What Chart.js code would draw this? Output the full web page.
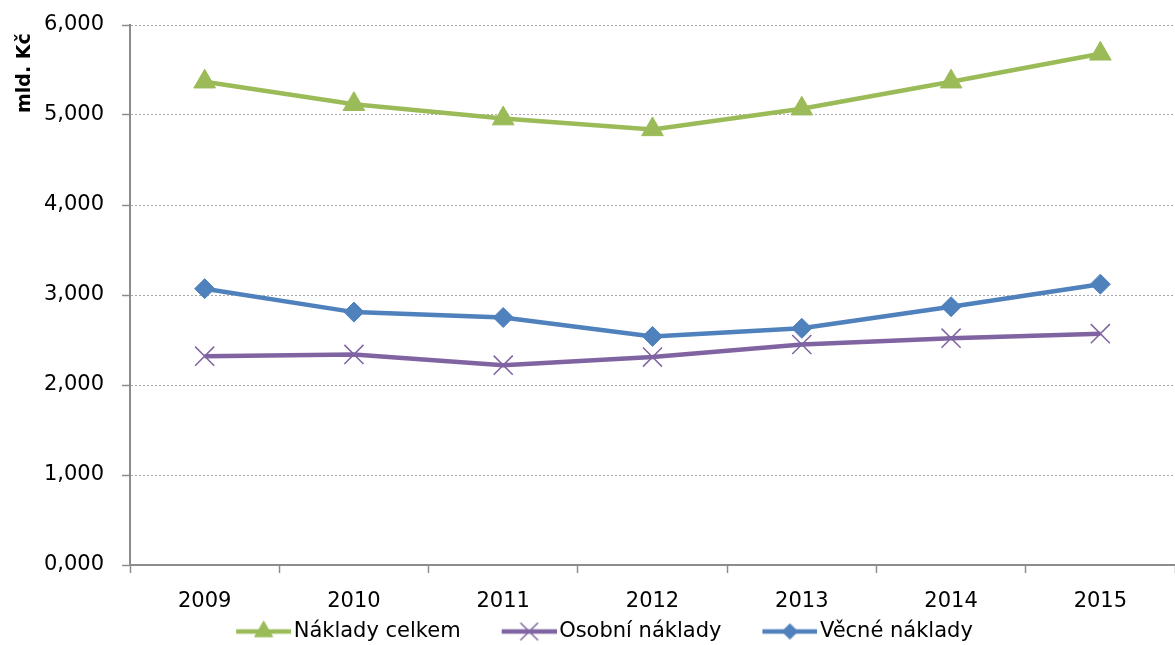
<!DOCTYPE html>
<html>
<head>
<meta charset="utf-8">
<script src="https://cdn.jsdelivr.net/npm/chart.js@4.4.0/dist/chart.umd.min.js"></script>
<style>
html,body{margin:0;padding:0;background:#fff;overflow:hidden;}
#wrap{position:absolute;left:0;top:0;width:1190px;height:645px;}
</style>
</head>
<body>
<div id="wrap"><canvas id="c" width="1190" height="645"></canvas></div>
<script>
const categories = ['2009','2010','2011','2012','2013','2014','2015'];
const nakladyCelkem = [5.37, 5.12, 4.96, 4.84, 5.07, 5.37, 5.68];
const osobniNaklady = [2.32, 2.34, 2.22, 2.31, 2.45, 2.52, 2.57];
const vecneNaklady  = [3.07, 2.81, 2.75, 2.54, 2.63, 2.87, 3.12];
const seriesNames = ['Náklady celkem', 'Osobní náklady', 'Věcné náklady'];
const yTitle = 'mld. Kč';

const GREEN = '#9BBB59', PURPLE = '#8064A2', BLUE = '#4F81BD';
const FONT = 'DejaVu Sans';
const FS = 21;

const OVER = 8;              // image overhang each side of box
const BOXW = 86;             // legend box width
const IMGW = BOXW + 2 * OVER;
const SAMPLE = 55;           // visible line sample width

function legendImage(color, style, r, bw) {
  const cv = document.createElement('canvas');
  cv.width = IMGW; cv.height = 26;
  const ctx = cv.getContext('2d');
  const x0 = IMGW - SAMPLE;
  ctx.strokeStyle = color; ctx.lineWidth = 4.5;
  ctx.beginPath(); ctx.moveTo(x0, 13); ctx.lineTo(IMGW, 13); ctx.stroke();
  ctx.fillStyle = color;
  ctx.strokeStyle = color;
  ctx.lineWidth = bw;
  ctx.beginPath();
  Chart.helpers.drawPoint(ctx, {pointStyle: style, radius: r, borderWidth: bw, rotation: 0}, x0 + SAMPLE / 2, 13);
  return cv;
}

const styles = [
  {color: GREEN, style: 'triangle', r: 12.5, bw: 1, lr: 10.4},
  {color: PURPLE, style: 'crossRot', r: 13.5, bw: 1.5, lr: 12.5},
  {color: BLUE, style: 'rectRot', r: 10, bw: 1, lr: 7.8}
];
const dataSets = [nakladyCelkem, osobniNaklady, vecneNaklady];

const layoutPlugin = {
  id: 'layoutTweaks',
  beforeUpdate(chart) {
    const lg = chart.legend;
    if (lg && !lg._patched) {
      const f = lg.fit.bind(lg);
      lg.fit = function () { f(); this.height = 26; };
      lg._patched = true;
    }
  },
  afterLayout(chart) {
    const lg = chart.legend;
    if (lg) { lg.left -= 7; lg.right -= 7; }
  },
  afterDraw(chart) {
    const ctx = chart.ctx;
    ctx.save();
    ctx.translate(25, 113);
    ctx.rotate(-Math.PI / 2);
    ctx.font = 'bold 19px "' + FONT + '"';
    ctx.fillStyle = '#000';
    ctx.textAlign = 'left';
    ctx.textBaseline = 'middle';
    ctx.fillText(yTitle, 0, 0);
    ctx.restore();
  }
};

new Chart(document.getElementById('c'), {
  type: 'line',
  plugins: [layoutPlugin],
  data: {
    labels: categories,
    datasets: dataSets.map((d, i) => ({
      label: seriesNames[i],
      data: d,
      borderColor: styles[i].color,
      backgroundColor: styles[i].color,
      borderWidth: 4.5,
      pointStyle: styles[i].style,
      pointRadius: styles[i].r,
      pointHoverRadius: styles[i].r,
      pointBorderWidth: styles[i].bw,
      pointBackgroundColor: styles[i].color,
      pointBorderColor: styles[i].color,
      tension: 0,
      fill: false
    }))
  },
  options: {
    responsive: false,
    animation: false,
    events: [],
    layout: {padding: {top: 25, right: 6, left: 0, bottom: 0}},
    plugins: {
      tooltip: {enabled: false},
      legend: {
        position: 'bottom',
        labels: {
          usePointStyle: true,
          pointStyleWidth: BOXW,
          boxHeight: 20,
          padding: 2,
          color: '#000',
          font: {family: FONT, size: FS},
          generateLabels: (chart) => chart.data.datasets.map((ds, i) => ({
            text: ds.label,
            pointStyle: legendImage(styles[i].color, styles[i].style, styles[i].lr, styles[i].bw),
            fillStyle: styles[i].color,
            strokeStyle: styles[i].color,
            lineWidth: 0,
            fontColor: '#000',
            datasetIndex: i,
            hidden: false
          }))
        }
      }
    },
    scales: {
      x: {
        type: 'category',
        offset: true,
        afterFit: (s) => { s.height = 54; s.paddingLeft = 0; s.paddingRight = 0; },
        grid: {
          offset: true,
          drawOnChartArea: false,
          drawTicks: true,
          tickLength: 8,
          tickColor: '#8c8c8c',
          tickWidth: 1.5
        },
        border: {display: true, color: '#8c8c8c', width: 2},
        ticks: {color: '#000', font: {family: FONT, size: FS}, padding: 16, maxRotation: 0}
      },
      y: {
        min: 0,
        max: 6,
        afterFit: (s) => { s.width = 130; s.paddingTop = 0; s.paddingBottom = 0; },
        ticks: {
          stepSize: 1,
          color: '#000',
          padding: 18,
          font: {family: FONT, size: FS},
          callback: (v) => v.toFixed(3).replace('.', ',')
        },
        grid: {
          color: (ctx) => ctx.tick && ctx.tick.value === 0 ? 'rgba(0,0,0,0)' : '#a6a6a6',
          lineWidth: 1,
          drawTicks: true,
          tickLength: 8,
          tickColor: '#8c8c8c',
          tickWidth: 1.5
        },
        border: {display: true, color: '#8c8c8c', width: 2, dash: [2, 2]},
        title: {display: false}
      }
    }
  }
});
</script>
</body>
</html>
